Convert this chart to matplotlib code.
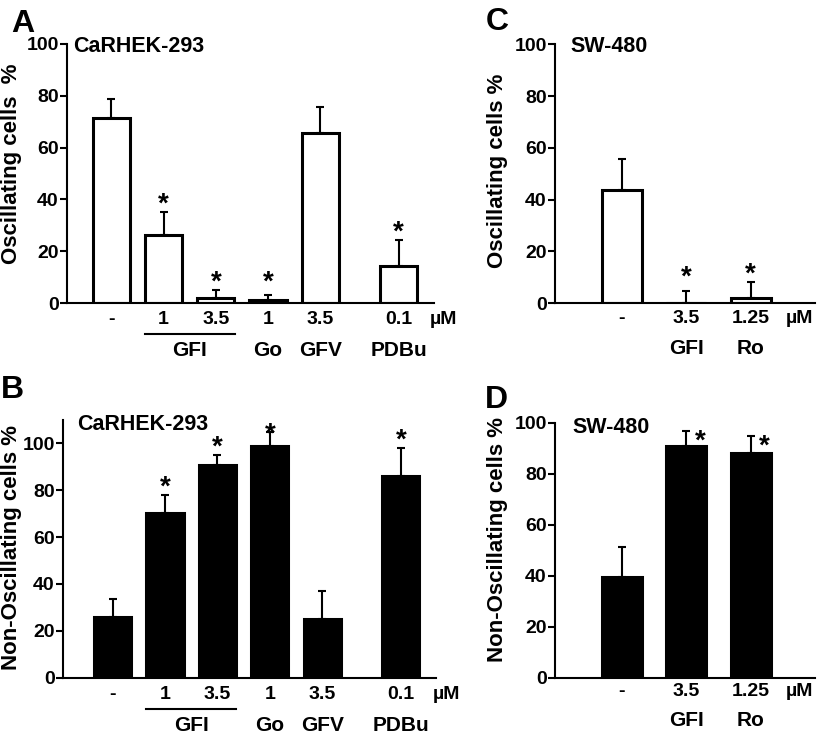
import numpy as np
import matplotlib
matplotlib.use("Agg")
import matplotlib.pyplot as plt
import matplotlib.transforms as mtransforms

plt.rcParams['font.family'] = ['Liberation Sans', 'DejaVu Sans']
plt.rcParams['font.weight'] = 'bold'

# --- data -------------------------------------------------------------
hek_doses = ["-", "1", "3.5", "1", "3.5", "0.1"]
hek_osc = [71.5, 26.3, 1.8, 1.2, 65.5, 14.3]
hek_osc_err = [7.3, 8.7, 3.2, 1.8, 10.2, 10.1]
hek_osc_star = [False, True, True, True, False, True]
hek_non = [25.7, 70.4, 90.7, 99.0, 25.1, 85.9]
hek_non_err = [8.1, 7.6, 4.3, 6.0, 12.0, 12.2]
hek_non_star = [False, True, True, True, False, True]

sw_doses = ["-", "3.5", "1.25"]
sw_osc = [43.5, 0.0, 1.8]
sw_osc_err = [12.2, 4.6, 6.4]
sw_osc_star = [False, True, True]
sw_non = [39.4, 90.9, 88.2]
sw_non_err = [11.7, 5.8, 6.6]
sw_non_star = [False, True, True]

hek_pos = [0, 1, 2, 3, 4, 5.5]
sw_pos = [0, 1, 2]

W, H = 819, 734
fig = plt.figure(figsize=(W / 100, H / 100), dpi=100)


def rect(left, right, top, bottom):
    return [left / W, 1 - bottom / H, (right - left) / W, (bottom - top) / H]


def style(ax, ylim, ticks):
    for s in ['top', 'right']:
        ax.spines[s].set_visible(False)
    for s in ['left', 'bottom']:
        ax.spines[s].set_linewidth(1.5)
    ax.set_ylim(*ylim)
    ax.set_yticks(ticks)
    ax.tick_params(axis='y', length=5, width=1.5, pad=1, labelsize=14)
    ax.set_xticks([])
    for lab in ax.get_yticklabels():
        lab.set_fontweight('bold')


def below(ax, x, text, dy, size=14):
    ax.annotate(text, xy=(x, 0), xycoords=('data', 'axes fraction'),
                xytext=(0, -dy), textcoords='offset pixels',
                ha='center', va='center', fontsize=size, fontweight='bold',
                annotation_clip=False)


def bars(ax, pos, vals, errs, width, color):
    ax.bar(pos, vals, width=width, color=color, edgecolor='black',
           linewidth=2.2, zorder=2)
    ax.errorbar(pos, vals, yerr=[np.zeros(len(vals)), errs], fmt='none',
                ecolor='black', elinewidth=1.5, capsize=3, capthick=1.5,
                zorder=3)


def star(ax, x, y, dx=0):
    ax.annotate('*', xy=(x, y), xycoords='data', xytext=(dx, -15),
                textcoords='offset pixels', ha='center', va='baseline',
                fontsize=20, fontweight='bold', annotation_clip=False)


# --- A ----------------------------------------------------------------
axA = fig.add_axes(rect(67, 434, 44, 303))
bars(axA, hek_pos, hek_osc, hek_osc_err, 0.71, 'white')
axA.set_xlim(-0.85, 6.18)
style(axA, (0, 100), range(0, 101, 20))
for x, v, e, s in zip(hek_pos, hek_osc, hek_osc_err, hek_osc_star):
    if s:
        star(axA, x, max(v + e + 6, 11))

# --- B ----------------------------------------------------------------
axB = fig.add_axes(rect(63, 436, 420, 677.7))
bars(axB, hek_pos, hek_non, hek_non_err, 0.71, 'black')
axB.set_xlim(-0.945, 6.17)
style(axB, (0, 110), range(0, 101, 20))
for x, v, e, s in zip(hek_pos, hek_non, hek_non_err, hek_non_star):
    if s:
        star(axB, x, min(v + e + 6.5, 107))

for ax, dt, dl, dg in [(axA, 16, 31, 47.5), (axB, 17, 31, 48)]:
    for x, d in zip(hek_pos, hek_doses):
        below(ax, x, d, dt)
    below(ax, 6.37, "µM", dt)
    for x, g in zip([1.5, 3, 4, 5.5], ["GFI", "Go", "GFV", "PDBu"]):
        below(ax, x, g, dg, size=15)
    tr = mtransforms.offset_copy(
        mtransforms.blended_transform_factory(ax.transData, ax.transAxes),
        fig=fig, y=-dl, units='dots')
    ax.plot([1 - 0.36, 2 + 0.36], [0, 0], color='black', lw=1.5,
            transform=tr, clip_on=False)

# --- C ----------------------------------------------------------------
axC = fig.add_axes(rect(555, 815, 44.3, 303))
bars(axC, sw_pos, sw_osc, sw_osc_err, 0.62, 'white')
axC.set_xlim(-1.04, 3.0)
style(axC, (0, 100), range(0, 101, 20))
for x, v, e, s in zip(sw_pos, sw_osc, sw_osc_err, sw_osc_star):
    if s:
        star(axC, x, max(v + e + 6, 13))

# --- D ----------------------------------------------------------------
axD = fig.add_axes(rect(555, 815, 422.7, 677.7))
bars(axD, sw_pos, sw_non, sw_non_err, 0.62, 'black')
axD.set_xlim(-1.04, 3.0)
style(axD, (0, 100), range(0, 101, 20))
for x, v, e, s in zip(sw_pos, sw_non, sw_non_err, sw_non_star):
    if s:
        star(axD, x, v + e - 1, dx=14)

for ax, dt, dg in [(axC, 15.5, 45.5), (axD, 14, 43)]:
    for x, d in zip(sw_pos, sw_doses):
        below(ax, x, d, dt)
    below(ax, 2.76, "µM", dt)
    for x, g in zip([1, 2], ["GFI", "Ro"]):
        below(ax, x, g, dg, size=15)

# --- titles inside panels ----------------------------------------------
for ax, txt, dx, dy in [(axA, "CaRHEK-293", 6, -2.5), (axB, "CaRHEK-293", 14, -4),
                        (axC, "SW-480", 15, -2), (axD, "SW-480", 17, -5)]:
    ax.annotate(txt, xy=(0, 1), xycoords='axes fraction', xytext=(dx, dy),
                textcoords='offset pixels', ha='left', va='center',
                fontsize=15.5, fontweight='bold', annotation_clip=False)

# --- y labels and panel letters -----------------------------------------
for x, y, txt in [(12, 164, "Oscillating cells  %"), (12, 548, "Non-Oscillating cells %"),
                  (497.5, 171, "Oscillating cells %"), (498, 540, "Non-Oscillating cells %")]:
    fig.text(x / W, 1 - y / H, txt, rotation=90, ha='center', va='center',
             fontsize=16, fontweight='bold')

for x, y, txt in [(11, 9, "A"), (1, 375, "B"), (486, 7, "C"), (485, 385, "D")]:
    fig.text(x / W, 1 - y / H, txt, ha='left', va='top', fontsize=23,
             fontweight='bold')

fig.savefig("out.png", dpi=100)
